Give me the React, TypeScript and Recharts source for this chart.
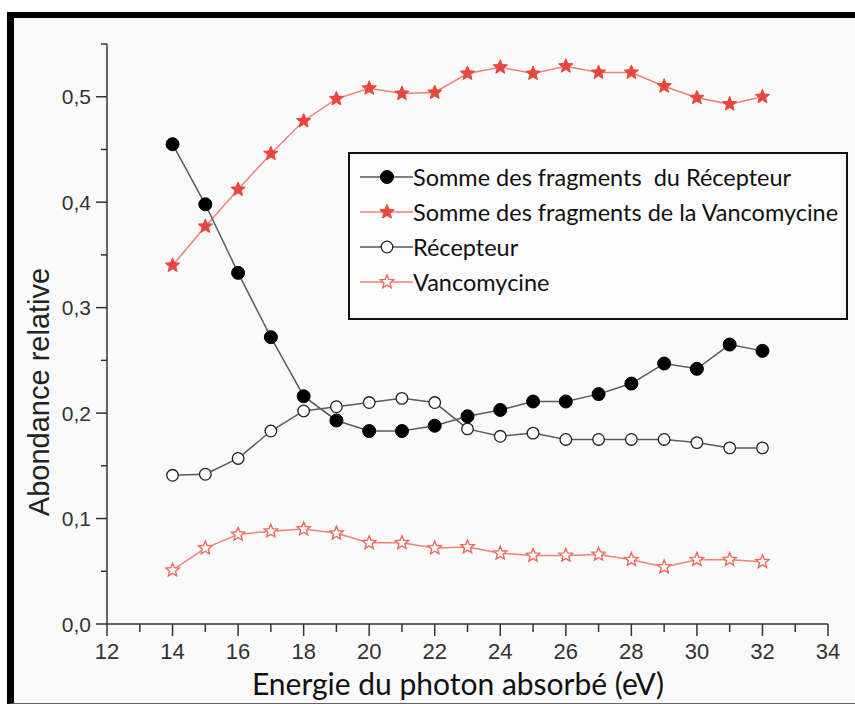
import React from 'react';
import { LineChart, Line, XAxis, YAxis, Label } from 'recharts';

// Energie du photon absorbé (eV)
const ENERGY = [14, 15, 16, 17, 18, 19, 20, 21, 22, 23, 24, 25, 26, 27, 28, 29, 30, 31, 32];

// abondance relative
const SOMME_RECEPTEUR = [0.455, 0.398, 0.333, 0.272, 0.216, 0.193, 0.183, 0.183, 0.188, 0.197, 0.203, 0.211, 0.211, 0.218, 0.228, 0.247, 0.242, 0.265, 0.259];
const SOMME_VANCO = [0.340, 0.377, 0.412, 0.446, 0.477, 0.498, 0.508, 0.503, 0.504, 0.522, 0.528, 0.522, 0.529, 0.523, 0.523, 0.510, 0.499, 0.493, 0.500];
const RECEPTEUR = [0.141, 0.142, 0.157, 0.183, 0.202, 0.206, 0.210, 0.214, 0.210, 0.185, 0.178, 0.181, 0.175, 0.175, 0.175, 0.175, 0.172, 0.167, 0.167];
const VANCO = [0.051, 0.072, 0.085, 0.088, 0.090, 0.086, 0.077, 0.077, 0.072, 0.073, 0.067, 0.065, 0.065, 0.066, 0.061, 0.054, 0.061, 0.061, 0.059];

const X_TICKS = [12, 13, 14, 15, 16, 17, 18, 19, 20, 21, 22, 23, 24, 25, 26, 27, 28, 29, 30, 31, 32, 33, 34];
const X_LABELS = [12, 14, 16, 18, 20, 22, 24, 26, 28, 30, 32, 34];
const Y_TICKS = [0, 0.05, 0.1, 0.15, 0.2, 0.25, 0.3, 0.35, 0.4, 0.45, 0.5, 0.55];
const Y_LABELS = [0, 0.1, 0.2, 0.3, 0.4, 0.5];

const LEGEND_NAMES = [
  'Somme des fragments  du Récepteur',
  'Somme des fragments de la Vancomycine',
  'Récepteur',
  'Vancomycine',
];

const data = ENERGY.map((e, i) => ({
  e,
  sommeRec: SOMME_RECEPTEUR[i],
  sommeVan: SOMME_VANCO[i],
  rec: RECEPTEUR[i],
  van: VANCO[i],
}));

const AXIS = '#333';
const GREY_LINE = '#5a5a5a';
const RED_LINE = '#f08278';
const RED = '#e8473c';

function starPath(cx: number, cy: number, R: number) {
  const r = R * 0.45;
  let d = '';
  for (let k = 0; k < 10; k++) {
    const rad = k % 2 === 0 ? R : r;
    const a = -Math.PI / 2 + (k * Math.PI) / 5;
    d += (k === 0 ? 'M' : 'L') + (cx + rad * Math.cos(a)).toFixed(2) + ',' + (cy + rad * Math.sin(a)).toFixed(2);
  }
  return d + 'Z';
}

const marker = (kind: number, cx: number, cy: number, key?: any) => {
  if (kind === 0) return <circle key={key} cx={cx} cy={cy} r={6.5} fill="#000" stroke="#000" strokeWidth={1} />;
  if (kind === 1) return <path key={key} d={starPath(cx, cy, 7.5)} fill={RED} stroke={RED} strokeWidth={1} />;
  if (kind === 2) return <circle key={key} cx={cx} cy={cy} r={5.8} fill="#fff" stroke="#222" strokeWidth={1.3} />;
  return <path key={key} d={starPath(cx, cy, 7)} fill="#fff" stroke="#ec6a5f" strokeWidth={1.4} />;
};

const dotFor = (kind: number) => (p: any) => marker(kind, p.cx, p.cy, p.index);

const XTick = (props: any) => {
  const { x, y, payload } = props;
  const major = X_LABELS.includes(payload.value);
  return (
    <g>
      <line x1={x} x2={x} y1={y} y2={y + (major ? 12 : 8)} stroke={AXIS} strokeWidth={1.5} />
      {major && (
        <text x={x} y={y + 35} textAnchor="middle" fontFamily="'Liberation Sans Narrow', 'Liberation Sans', Arial" fontSize={22} fill="#333">
          {payload.value}
        </text>
      )}
    </g>
  );
};

const YTick = (props: any) => {
  const { x, y, payload } = props;
  const major = Y_LABELS.includes(payload.value);
  return (
    <g>
      <line x1={x} x2={x - (major ? 11 : 6)} y1={y} y2={y} stroke={AXIS} strokeWidth={1.5} />
      {major && (
        <text x={x - 16} y={y} dy="0.36em" textAnchor="end" fontFamily="'Liberation Sans', Arial" fontSize={21} fill="#333">
          {payload.value.toFixed(1).replace('.', ',')}
        </text>
      )}
    </g>
  );
};

const LegendBox = () => (
  <div
    style={{
      position: 'absolute',
      left: 348,
      top: 152,
      width: 500,
      height: 168,
      boxSizing: 'border-box',
      border: '2px solid #111',
      background: '#fcfcfc',
      paddingTop: 5,
      paddingLeft: 10,
      fontFamily: 'Lato, "Open Sans", sans-serif',
      fontSize: 23.5,
      color: '#111',
    }}
  >
    {LEGEND_NAMES.map((name, i) => (
      <div key={name} style={{ display: 'flex', alignItems: 'center', height: 35, whiteSpace: 'pre' }}>
        <svg width={53} height={20} style={{ flex: 'none' }}>
          <line x1={0} x2={53} y1={10} y2={10} stroke={i % 2 === 0 ? GREY_LINE : RED_LINE} strokeWidth={1.5} />
          {marker(i, 27, 10)}
        </svg>
        <span>{name}</span>
      </div>
    ))}
  </div>
);

export default function App() {
  return (
    <div style={{ position: 'absolute', left: 0, top: 0, width: 855, height: 706, background: '#fff', overflow: 'hidden' }}>
      <div
        style={{
          position: 'absolute',
          left: 7,
          top: 12,
          width: 860,
          height: 692,
          boxSizing: 'border-box',
          borderTop: '6px solid #000',
          borderLeft: '7px solid #000',
          borderBottom: '1px solid #666',
          background: '#fafafa',
        }}
      />
      <div style={{ position: 'absolute', left: 0, top: 0 }}>
        <LineChart width={855} height={706} data={data} margin={{ top: 44, right: 27, bottom: 0, left: 47 }}>
          <XAxis
            dataKey="e"
            type="number"
            domain={[12, 34]}
            ticks={X_TICKS}
            interval={0}
            height={82}
            tickSize={0}
            tickMargin={0}
            tickLine={false}
            tick={<XTick />}
            axisLine={{ stroke: AXIS, strokeWidth: 1.5 }}
          >
            <Label
              content={() => (
                <text x={458} y={695} textAnchor="middle" fontFamily='Lato, "Open Sans", sans-serif' fontSize={30} fill="#111">
                  Energie du photon absorbé (eV)
                </text>
              )}
            />
          </XAxis>
          <YAxis
            type="number"
            domain={[0, 0.55]}
            ticks={Y_TICKS}
            interval={0}
            width={60}
            tickSize={0}
            tickMargin={0}
            tickLine={false}
            tick={<YTick />}
            axisLine={{ stroke: AXIS, strokeWidth: 1.5 }}
          >
            <Label
              content={() => (
                <text x={49} y={392} transform="rotate(-90 49 392)" textAnchor="middle" fontFamily="'Liberation Sans', Arial" fontSize={29} fill="#222">
                  Abondance relative
                </text>
              )}
            />
          </YAxis>
          <Line dataKey="van" stroke={RED_LINE} strokeWidth={1.5} dot={dotFor(3)} isAnimationActive={false} />
          <Line dataKey="rec" stroke={GREY_LINE} strokeWidth={1.5} dot={dotFor(2)} isAnimationActive={false} />
          <Line dataKey="sommeVan" stroke={RED_LINE} strokeWidth={1.5} dot={dotFor(1)} isAnimationActive={false} />
          <Line dataKey="sommeRec" stroke={GREY_LINE} strokeWidth={1.5} dot={dotFor(0)} isAnimationActive={false} />
        </LineChart>
        <LegendBox />
      </div>
    </div>
  );
}
